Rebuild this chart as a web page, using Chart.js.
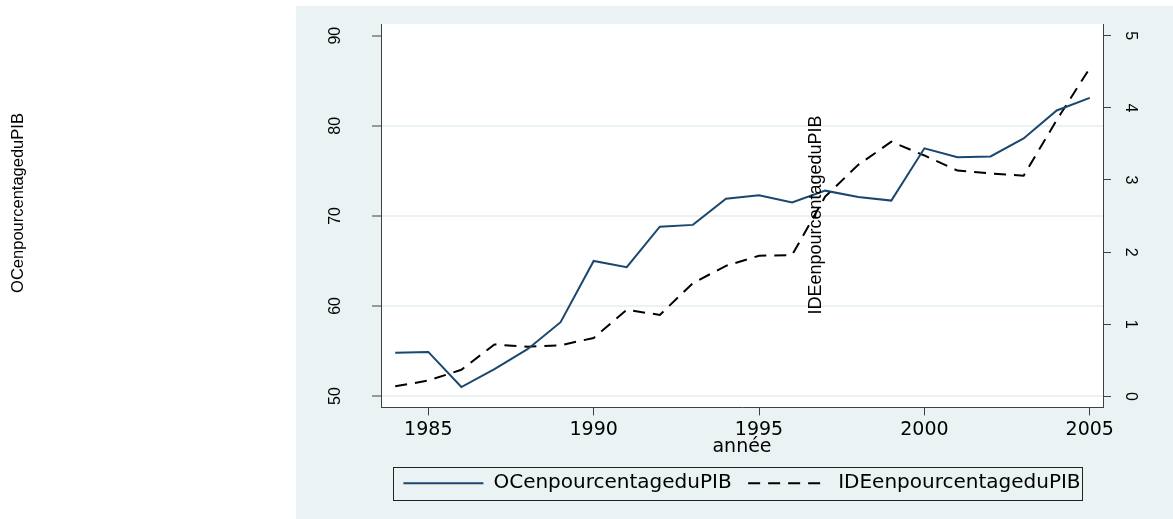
<!DOCTYPE html>
<html>
<head>
<meta charset="utf-8">
<script src="https://cdn.jsdelivr.net/npm/chart.js@4/dist/chart.umd.min.js"></script>
<style>
  html, body { margin: 0; padding: 0; background: #fff; }
</style>
</head>
<body>
<canvas id="myChart" width="1173" height="519"></canvas>
<script>
const years = [1984, 1985, 1986, 1987, 1988, 1989, 1990, 1991, 1992, 1993, 1994,
               1995, 1996, 1997, 1998, 1999, 2000, 2001, 2002, 2003, 2004, 2005];
const ocValues = [54.8, 54.9, 51.0, 53.0, 55.2, 58.2, 65.0, 64.3, 68.8, 69.0, 71.9,
                  72.3, 71.5, 72.8, 72.1, 71.7, 77.5, 76.5, 76.6, 78.6, 81.7, 83.1];
const ideValues = [0.14, 0.22, 0.37, 0.72, 0.69, 0.71, 0.81, 1.20, 1.13, 1.57, 1.81,
                   1.95, 1.96, 2.77, 3.21, 3.53, 3.34, 3.13, 3.09, 3.06, 3.83, 4.55];
const yearTicks = [1985, 1990, 1995, 2000, 2005];
const ocTicks = [50, 60, 70, 80, 90];
const ideTicks = [0, 1, 2, 3, 4, 5];
const seriesNames = ['OCenpourcentageduPIB', 'IDEenpourcentageduPIB'];
const xTitle = 'année';

const axisColor = '#404040';
const bgColor = '#eaf2f3';

function vText(ctx, text, x, y, size) {
  ctx.save();
  ctx.translate(x, y);
  ctx.rotate(-Math.PI / 2);
  ctx.font = size + 'px "Liberation Sans"';
  ctx.fillStyle = '#000';
  ctx.textAlign = 'center';
  ctx.textBaseline = 'middle';
  ctx.fillText(text, 0, 0);
  ctx.restore();
}

// stata style frame, legend symbols + border and the two rotated titles
const stataFrame = {
  id: 'stataFrame',
  beforeDraw(chart) {
    const { ctx, chartArea: a } = chart;
    ctx.save();
    ctx.fillStyle = bgColor;
    ctx.fillRect(296, 6, chart.width - 296, chart.height - 6);
    ctx.fillStyle = '#fff';
    ctx.fillRect(a.left, a.top, a.right - a.left, a.bottom - a.top);
    ctx.restore();
  },
  afterDraw(chart) {
    const ctx = chart.ctx;
    const hb = chart.legend.legendHitBoxes;
    if (hb && hb.length) {
      const first = hb[0], last = hb[hb.length - 1];
      const cy = first.top + first.height / 2;
      ctx.save();
      hb.forEach((b, i) => {
        const ds = chart.data.datasets[i];
        ctx.strokeStyle = ds.borderColor;
        ctx.lineWidth = ds.borderWidth;
        ctx.setLineDash(ds.borderDash || []);
        ctx.beginPath();
        ctx.moveTo(b.left, cy);
        ctx.lineTo(b.left + 80, cy);
        ctx.stroke();
      });
      ctx.setLineDash([]);
      ctx.strokeStyle = '#222';
      ctx.lineWidth = 1;
      ctx.strokeRect(Math.round(first.left - 10) + 0.5, Math.round(cy - 16.5) + 0.5,
        Math.round(last.left + last.width + 2 - first.left + 10), 33);
      ctx.restore();
    }
    vText(ctx, seriesNames[0], 18, 203, 16.5);
    vText(ctx, seriesNames[1], 816, 215, 18);
  }
};

const ctx = document.getElementById('myChart');
const myChart = new Chart(ctx, {
  type: 'line',
  data: {
    datasets: [{
      label: seriesNames[0],
      data: years.map((yr, i) => ({ x: yr, y: ocValues[i] })),
      yAxisID: 'y',
      borderColor: '#1a476f',
      backgroundColor: '#1a476f',
      borderWidth: 2,
      pointRadius: 0,
      tension: 0
    }, {
      label: seriesNames[1],
      data: years.map((yr, i) => ({ x: yr, y: ideValues[i] })),
      yAxisID: 'y2',
      borderColor: '#000',
      backgroundColor: '#000',
      borderWidth: 2,
      borderDash: [12, 8],
      pointRadius: 0,
      tension: 0
    }]
  },
  options: {
    responsive: false,
    animation: false,
    layout: { padding: { top: 24, left: 0, right: 0, bottom: 15.8 } },
    scales: {
      x: {
        type: 'linear',
        min: 1983.57,
        max: 2005.4,
        afterBuildTicks: s => { s.ticks = yearTicks.map(v => ({ value: v })); },
        afterFit: s => { s.height = 49.3; s.paddingLeft = 0; s.paddingRight = 0; },
        grid: { drawOnChartArea: false, tickColor: axisColor, tickLength: 8, tickWidth: 1 },
        border: { color: axisColor, width: 1 },
        ticks: {
          padding: 3, color: '#000', maxRotation: 0,
          font: { family: 'DejaVu Sans', size: 19 },
          callback: v => String(v)
        },
        title: {
          display: true, text: xTitle, color: '#000',
          font: { family: 'DejaVu Sans', size: 19, lineHeight: 1 },
          padding: { top: 0, bottom: 0 }
        }
      },
      y: {
        type: 'linear',
        position: 'left',
        min: 48.74,
        max: 91.3,
        afterBuildTicks: s => { s.ticks = ocTicks.map(v => ({ value: v })); },
        afterFit: s => { s.width = 381; s.paddingTop = 0; s.paddingBottom = 0; },
        grid: {
          color: c => (c.tick && c.tick.value === 90) ? 'rgba(0,0,0,0)' : bgColor,
          lineWidth: 2, tickColor: axisColor, tickLength: 9, tickWidth: 1
        },
        border: { color: axisColor, width: 1 },
        ticks: {
          minRotation: 90, maxRotation: 90, crossAlign: 'center', padding: 28,
          color: '#000', font: { family: 'Liberation Sans', size: 16 }
        }
      },
      y2: {
        type: 'linear',
        position: 'right',
        min: -0.152,
        max: 5.162,
        afterBuildTicks: s => { s.ticks = ideTicks.map(v => ({ value: v })); },
        afterFit: s => { s.width = 70; s.paddingTop = 0; s.paddingBottom = 0; },
        grid: { drawOnChartArea: false, tickColor: axisColor, tickLength: 8, tickWidth: 1 },
        border: { color: axisColor, width: 1 },
        ticks: {
          minRotation: -90, maxRotation: -90, crossAlign: 'center', padding: 14.5,
          color: '#000', font: { family: 'Liberation Sans', size: 16 }
        }
      }
    },
    plugins: {
      tooltip: { enabled: false },
      legend: {
        display: true,
        position: 'bottom',
        fullSize: false,
        labels: {
          usePointStyle: true,
          pointStyle: 'line',
          pointStyleWidth: 80,
          padding: 16.5,
          color: '#000',
          font: { family: 'DejaVu Sans', size: 20 },
          generateLabels: chart => Chart.defaults.plugins.legend.labels.generateLabels(chart)
            .map(item => Object.assign(item, { strokeStyle: 'rgba(0,0,0,0)' }))
        }
      }
    }
  },
  plugins: [stataFrame]
});
</script>
</body>
</html>
